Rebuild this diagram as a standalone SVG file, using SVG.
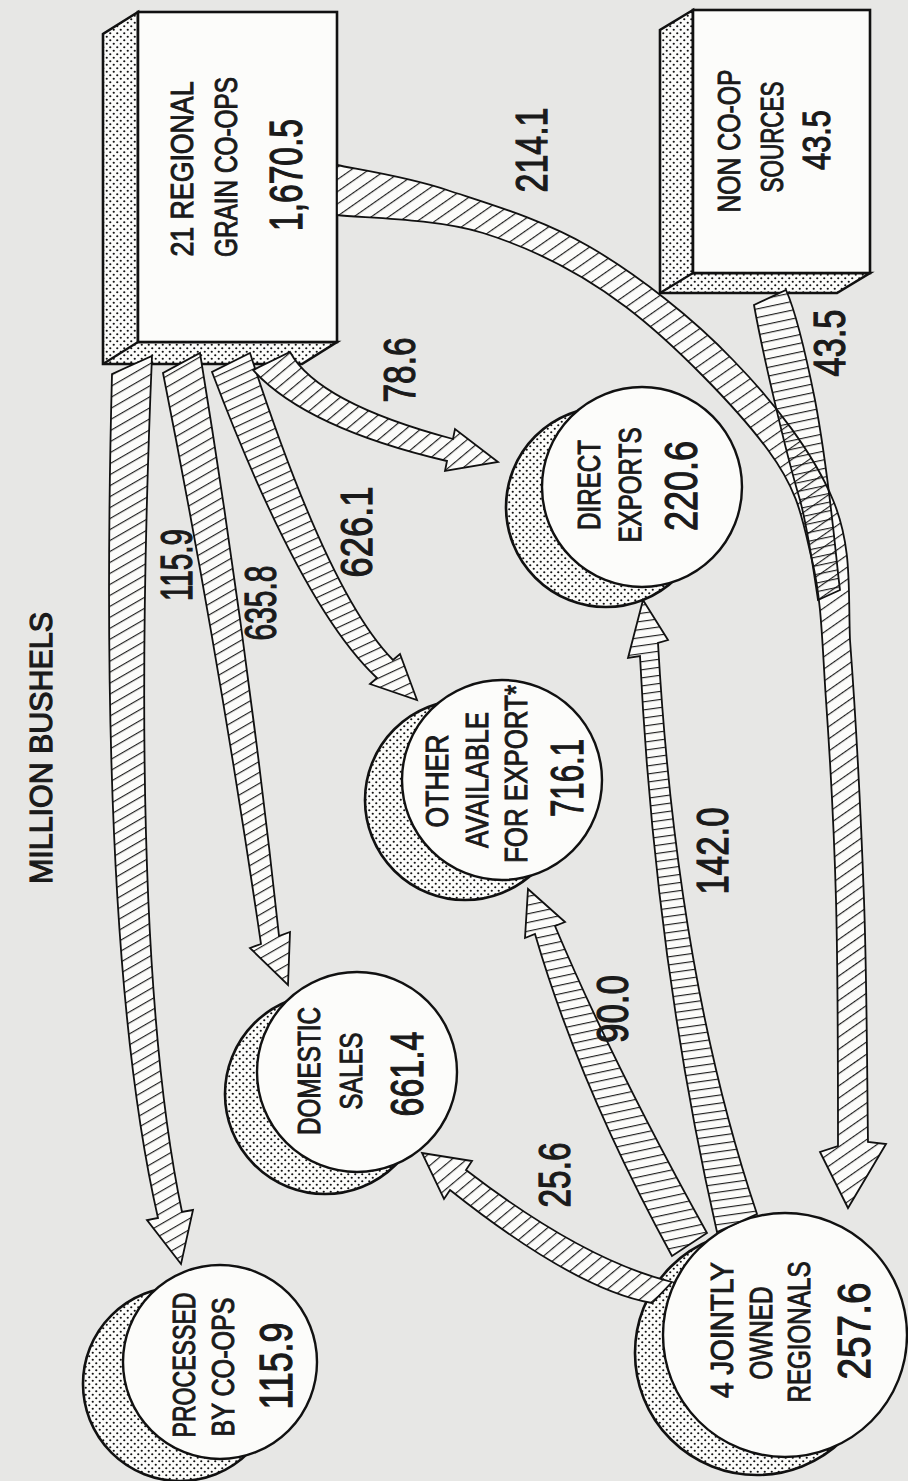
<svg xmlns="http://www.w3.org/2000/svg" width="908" height="1481" viewBox="0 0 908 1481">
<defs>
<pattern id="dots" width="7" height="7" patternUnits="userSpaceOnUse"><rect width="7" height="7" fill="#fcfcfa"/><circle cx="1.75" cy="1.75" r="1.1" fill="#111"/><circle cx="5.25" cy="5.25" r="1.1" fill="#111"/></pattern>
<pattern id="h30" width="10" height="9.5" patternUnits="userSpaceOnUse" patternTransform="rotate(-30)"><rect width="10" height="9.5" fill="#fcfcfa"/><line x1="0" y1="0.6" x2="10" y2="0.6" stroke="#111" stroke-width="1.1"/></pattern>
<pattern id="h25" width="10" height="9" patternUnits="userSpaceOnUse" patternTransform="rotate(-25)"><rect width="10" height="9" fill="#fcfcfa"/><line x1="0" y1="0.6" x2="10" y2="0.6" stroke="#111" stroke-width="1.1"/></pattern>
<pattern id="h40" width="10" height="9.5" patternUnits="userSpaceOnUse" patternTransform="rotate(-40)"><rect width="10" height="9.5" fill="#fcfcfa"/><line x1="0" y1="0.6" x2="10" y2="0.6" stroke="#111" stroke-width="1.1"/></pattern>
<pattern id="h35t" width="10" height="10" patternUnits="userSpaceOnUse" patternTransform="rotate(-35)"><line x1="0" y1="0.6" x2="10" y2="0.6" stroke="#111" stroke-width="1.1"/></pattern>
<pattern id="h12" width="10" height="8.5" patternUnits="userSpaceOnUse" patternTransform="rotate(-12)"><rect width="10" height="8.5" fill="#fcfcfa"/><line x1="0" y1="0.6" x2="10" y2="0.6" stroke="#111" stroke-width="1.1"/></pattern>
<pattern id="h8" width="10" height="8" patternUnits="userSpaceOnUse" patternTransform="rotate(-8)"><rect width="10" height="8" fill="#fcfcfa"/><line x1="0" y1="0.6" x2="10" y2="0.6" stroke="#111" stroke-width="1.1"/></pattern>
<style>
.bg{fill:#e7e7e5}
.ext{fill:url(#dots);stroke:#111;stroke-width:2.6;stroke-linejoin:miter}
.face{fill:#fcfcfa;stroke:#111;stroke-width:2.6}
.shadow{fill:url(#dots);stroke:#111;stroke-width:2.6}
.disk{fill:#fcfcfa;stroke:#111;stroke-width:2.4}
.rib{stroke:#111;stroke-width:1.8;stroke-linejoin:miter}
.w,.n,.l{font-family:"Liberation Sans",Arial,sans-serif;fill:#1a1a1a;stroke:#1a1a1a;stroke-width:1;text-anchor:middle}
.w{font-size:31px}
.n{font-size:46px;stroke-width:1.2}
.l{font-size:44px;stroke-width:1.2}
</style>
</defs>
<rect class="bg" x="0" y="0" width="908" height="1481"/>

<g id="title">
<text class="w" transform="translate(52,748) rotate(-90)" textLength="272" lengthAdjust="spacingAndGlyphs" style="stroke-width:1.2">MILLION BUSHELS</text>
</g>

<g id="regional-coops">
<polygon class="ext" points="138,12 103,34 103,364 302,364 337,342 138,342"/>
<line x1="138" y1="342" x2="103" y2="364" stroke="#111" stroke-width="2.2"/>
<rect class="face" x="138" y="12" width="199" height="330"/>
<text class="w" transform="translate(193,169) rotate(-90)" textLength="175" lengthAdjust="spacingAndGlyphs">21 REGIONAL</text>
<text class="w" transform="translate(237,167) rotate(-90)" textLength="180" lengthAdjust="spacingAndGlyphs">GRAIN CO-OPS</text>
<text class="n" transform="translate(302,175) rotate(-90)" textLength="112" lengthAdjust="spacingAndGlyphs">1,670.5</text>
</g>

<g id="non-coop-sources">
<polygon class="ext" points="693,10 660,30 660,293 837,293 870,273 693,273"/>
<line x1="693" y1="273" x2="660" y2="293" stroke="#111" stroke-width="2.2"/>
<rect class="face" x="693" y="10" width="177" height="263"/>
<text class="w" transform="translate(740,141) rotate(-90)" textLength="143" lengthAdjust="spacingAndGlyphs">NON CO-OP</text>
<text class="w" transform="translate(783,137) rotate(-90)" textLength="111" lengthAdjust="spacingAndGlyphs">SOURCES</text>
<text class="n" transform="translate(830,140) rotate(-90)" textLength="60" lengthAdjust="spacingAndGlyphs" style="font-size:38px">43.5</text>
</g>

<g id="direct-exports">
<circle class="shadow" cx="606" cy="507" r="100"/>
<circle class="disk" cx="642" cy="487" r="100"/>
<text class="w" transform="translate(600,485) rotate(-90)" textLength="90" lengthAdjust="spacingAndGlyphs">DIRECT</text>
<text class="w" transform="translate(641,485) rotate(-90)" textLength="115" lengthAdjust="spacingAndGlyphs">EXPORTS</text>
<text class="n" transform="translate(697,486) rotate(-90)" textLength="90" lengthAdjust="spacingAndGlyphs">220.6</text>
</g>

<g id="other-available">
<circle class="shadow" cx="465" cy="800" r="100"/>
<circle class="disk" cx="502" cy="780" r="100"/>
<text class="w" transform="translate(448,781) rotate(-90)" textLength="93" lengthAdjust="spacingAndGlyphs">OTHER</text>
<text class="w" transform="translate(488,780) rotate(-90)" textLength="136" lengthAdjust="spacingAndGlyphs">AVAILABLE</text>
<text class="w" transform="translate(527,774) rotate(-90)" textLength="178" lengthAdjust="spacingAndGlyphs">FOR EXPORT*</text>
<text class="n" transform="translate(583,778) rotate(-90)" textLength="78" lengthAdjust="spacingAndGlyphs">716.1</text>
</g>

<g id="domestic-sales">
<circle class="shadow" cx="325" cy="1094" r="100"/>
<circle class="disk" cx="357" cy="1072" r="100"/>
<text class="w" transform="translate(320,1071) rotate(-90)" textLength="128" lengthAdjust="spacingAndGlyphs">DOMESTIC</text>
<text class="w" transform="translate(362,1071) rotate(-90)" textLength="77" lengthAdjust="spacingAndGlyphs">SALES</text>
<text class="n" transform="translate(423,1074) rotate(-90)" textLength="85" lengthAdjust="spacingAndGlyphs">661.4</text>
</g>

<g id="processed-by-coops">
<circle class="shadow" cx="180" cy="1384" r="97"/>
<circle class="disk" cx="220" cy="1362" r="97"/>
<text class="w" transform="translate(195,1365) rotate(-90)" textLength="145" lengthAdjust="spacingAndGlyphs">PROCESSED</text>
<text class="w" transform="translate(234,1367) rotate(-90)" textLength="139" lengthAdjust="spacingAndGlyphs">BY CO-OPS</text>
<text class="n" transform="translate(292,1366) rotate(-90)" textLength="87" lengthAdjust="spacingAndGlyphs">115.9</text>
</g>

<g id="jointly-owned-regionals">
<circle class="shadow" cx="757" cy="1353" r="122"/>
<circle class="disk" cx="785" cy="1335" r="122"/>
<text class="w" transform="translate(733,1330) rotate(-90)" textLength="136" lengthAdjust="spacingAndGlyphs">4 JOINTLY</text>
<text class="w" transform="translate(772,1333) rotate(-90)" textLength="93" lengthAdjust="spacingAndGlyphs">OWNED</text>
<text class="w" transform="translate(810,1332) rotate(-90)" textLength="141" lengthAdjust="spacingAndGlyphs">REGIONALS</text>
<text class="n" transform="translate(870,1331) rotate(-90)" textLength="97" lengthAdjust="spacingAndGlyphs">257.6</text>
</g>

<g id="connectors">
<path class="rib" fill="url(#h30)" d="M 112,374 Q 97,951 158,1218 L 147,1220 L 181,1264 L 193,1210 L 182,1212 Q 127,949 152,356 Z"/>
<path class="rib" fill="url(#h30)" d="M 163,373 Q 218,650 261,944 L 250,948 L 288,985 L 290,932 L 279,936 Q 248,648 200,353 Z"/>
<path class="rib" fill="url(#h25)" d="M 212,372 Q 301,607 377,678 L 370,684 L 417,700 L 400,654 L 393,660 Q 328,594 250,353 Z"/>
<path class="rib" fill="url(#h40)" d="M 253,370 Q 306,428 447,461 L 445,471 L 498,462 L 455,429 L 453,439 Q 318,403 290,352 Z"/>
<path fill="#fcfcfa" d="M 337,165 C 355,169 405,176 447,190 C 489,204 542,219 590,247 C 638,275 693,318 733,360 C 774,402 813.5,453 833,500 C 852.5,547 848,590 850,640 C 855,707 861,816 864,900 C 867,984 867.3,1102 868,1142 L 886,1144 L 848,1208 L 820,1152 L 838,1146 C 838,1105 838,974 836,900 C 834,826 830,757 826,700 C 822,643 822,602 812,560 C 802,518 799,492 768,450 C 737,408 673.5,343 626,307 C 578.5,271 531,248 483,233 C 435,218 361,218 337,215 Z"/>
<path class="rib" fill="url(#h12)" d="M 754,305 C 762,350 785,450 800,500 C 808,530 812,560 818,600 L 840,590 C 836,560 830,480 815,400 C 805,350 795,310 786,290 Z"/>
<path class="rib" fill="url(#h35t)" d="M 337,165 C 355,169 405,176 447,190 C 489,204 542,219 590,247 C 638,275 693,318 733,360 C 774,402 813.5,453 833,500 C 852.5,547 848,590 850,640 C 855,707 861,816 864,900 C 867,984 867.3,1102 868,1142 L 886,1144 L 848,1208 L 820,1152 L 838,1146 C 838,1105 838,974 836,900 C 834,826 830,757 826,700 C 822,643 822,602 812,560 C 802,518 799,492 768,450 C 737,408 673.5,343 626,307 C 578.5,271 531,248 483,233 C 435,218 361,218 337,215 Z"/>
<path class="rib" fill="url(#h8)" d="M 717,1232 Q 655,960 640,656 L 628,658 L 643,600 L 668,640 L 658,643 Q 677,977 757,1214 Z"/>
<path class="rib" fill="url(#h12)" d="M 672,1256 Q 580,1088 535,934 L 525,938 L 528,889 L 565,922 L 555,926 Q 613,1064 707,1233 Z"/>
<path class="rib" fill="url(#h40)" d="M 672,1282 Q 583,1260 466,1170 L 472,1161 L 422,1153 L 444,1199 L 450,1190 Q 576,1290 652,1303 Z"/>
</g>

<g id="flow-labels">
<text class="l" transform="translate(192,565) rotate(-90)" textLength="72" lengthAdjust="spacingAndGlyphs">115.9</text>
<text class="l" transform="translate(276,603) rotate(-90)" textLength="75" lengthAdjust="spacingAndGlyphs">635.8</text>
<text class="l" transform="translate(372,532) rotate(-90)" textLength="91" lengthAdjust="spacingAndGlyphs">626.1</text>
<text class="l" transform="translate(415,370) rotate(-90)" textLength="65" lengthAdjust="spacingAndGlyphs">78.6</text>
<text class="l" transform="translate(547,150) rotate(-90)" textLength="85" lengthAdjust="spacingAndGlyphs">214.1</text>
<text class="l" transform="translate(845,343) rotate(-90)" textLength="67" lengthAdjust="spacingAndGlyphs">43.5</text>
<text class="l" transform="translate(728,851) rotate(-90)" textLength="87" lengthAdjust="spacingAndGlyphs">142.0</text>
<text class="l" transform="translate(628,1009) rotate(-90)" textLength="68" lengthAdjust="spacingAndGlyphs">90.0</text>
<text class="l" transform="translate(570,1175) rotate(-90)" textLength="65" lengthAdjust="spacingAndGlyphs">25.6</text>
</g>
</svg>
